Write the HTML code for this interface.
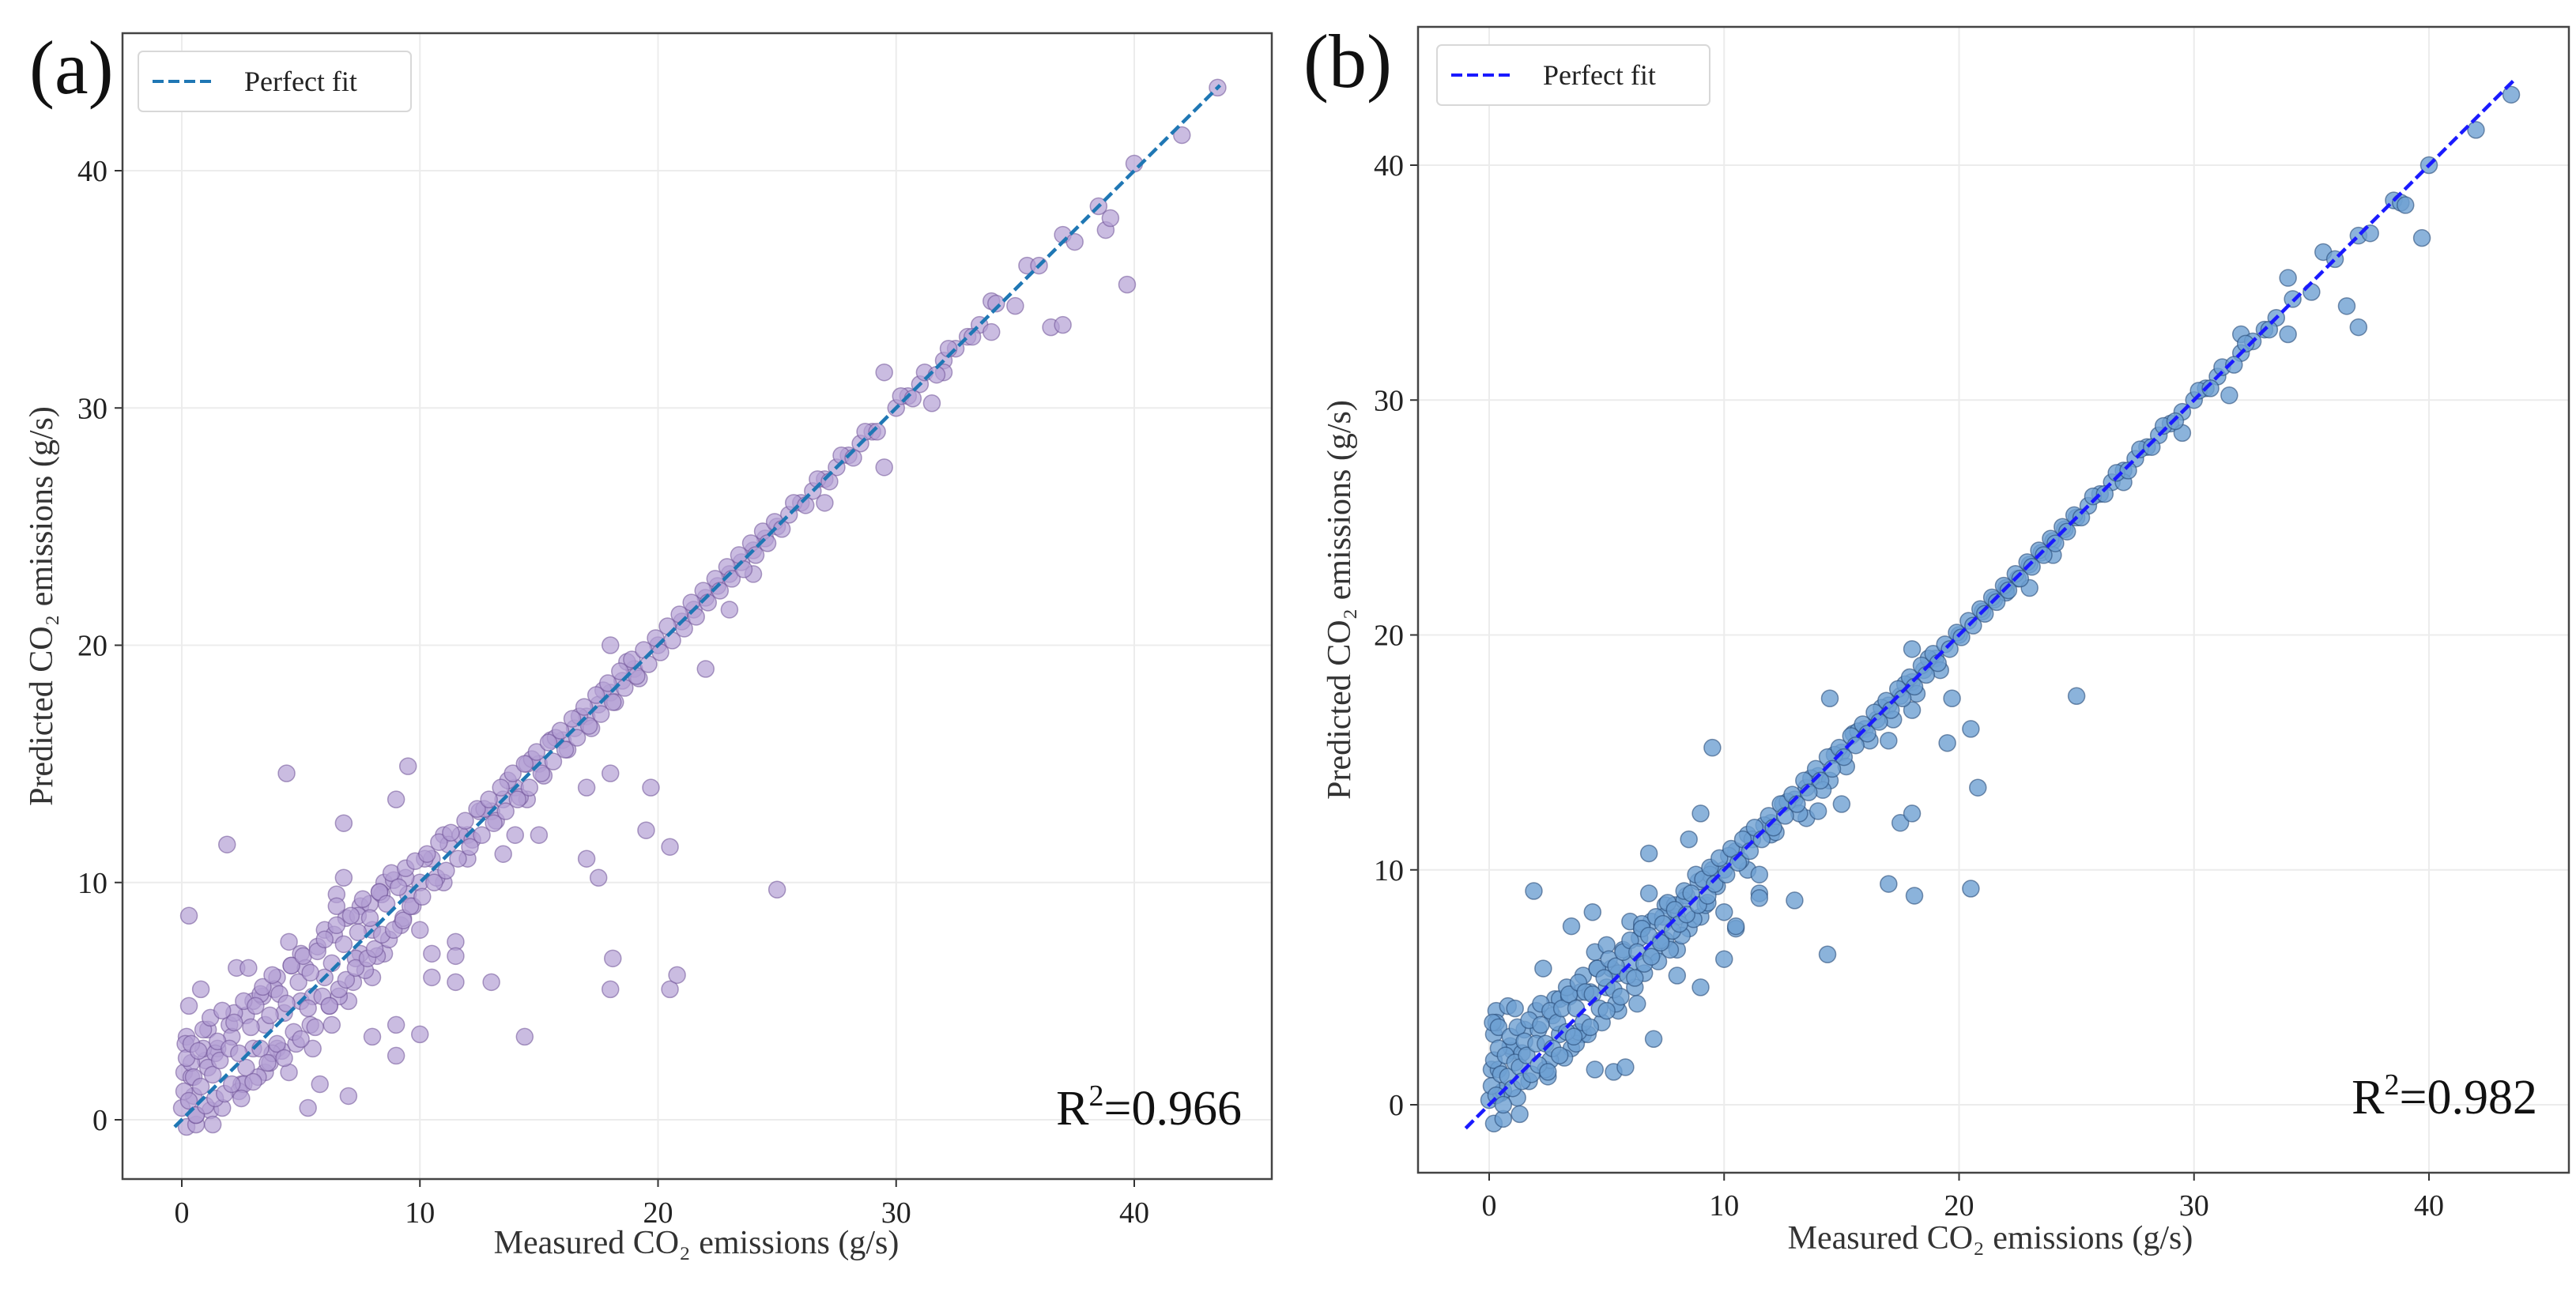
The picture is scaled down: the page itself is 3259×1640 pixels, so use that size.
<!DOCTYPE html>
<html><head><meta charset="utf-8"><style>
html,body{margin:0;padding:0;background:#fff;}
svg{display:block;font-family:"Liberation Serif",serif;}
</style></head><body>
<svg id="chart" width="3259" height="1640" viewBox="0 0 3259 1640" xmlns="http://www.w3.org/2000/svg">
<rect width="3259" height="1640" fill="#fff"/>
</svg>
<script>
const ticks = [0, 10, 20, 30, 40];
const tickLabels = ["0", "10", "20", "30", "40"];
const measured = [0,0.1,0.2,0.3,0.3,0.5,0.2,0.8,1,1.5,1.9,2,2.3,2.8,2.5,3,3,3.5,3.5,4,4,4.4,4.5,4.5,5,5,5.3,5.5,5.8,6,6,6.3,6.5,6.8,6.8,7,7,7.5,7.5,8,8,8,8.5,8.5,9,9,9,9.5,9.5,10,10,10,10.5,10.5,10.5,11,11,11.5,11.5,11.5,12,12,12.5,13,13,13.5,13.5,14,14,14.4,14.5,14.5,15,15,15.5,16,16.5,17,17,17,17.5,17.5,18,18,18,18.1,18,18.5,19,19.5,19.7,20,20.5,20.5,20.8,21,21.5,22,22,22.5,23,23,23.5,24,24,24.5,25,25,25.5,26,26.5,27,27,27.5,28,28.5,29,29.5,29.5,30,30.5,31,31.5,32,32,32.5,33,33.5,34,34,35,35.5,36,36.5,37,37,37.5,38.5,38.8,39,39.7,40,42,43.5,
0.4,0.6,0.9,1.2,1.4,1.7,2.1,2.4,2.7,3.2,3.4,3.7,3.9,4.2,4.6,4.8,5.2,5.4,5.7,6.2,6.4,6.6,6.9,7.2,7.4,7.7,7.9,8.2,8.4,8.7,8.9,9.2,9.4,9.7,10.2,10.7,11.2,11.7,12.2,12.7,13.2,13.7,14.2,14.7,15.2,15.7,16.2,16.7,17.2,17.7,18.2,18.7,19.2,0.15,0.4,0.6,1.1,1.3,2.2,2.6,3.3,3.8,4.3,5.5,6.5,7.3,8.3,9.3,
0.1,0.2,0.3,0.4,0.5,0.6,0.7,0.8,0.9,1.0,1.1,1.2,1.3,1.4,1.5,1.6,1.7,1.8,2.0,2.1,2.2,2.4,2.5,2.6,2.7,2.9,3.0,3.1,3.3,3.4,3.6,3.7,3.8,4.0,4.1,4.3,4.4,4.6,4.7,4.9,5.0,5.1,5.3,5.4,5.6,5.7,5.9,6.0,6.2,6.3,6.5,6.6,6.8,6.9,7.1,7.3,7.4,7.6,7.8,7.9,8.1,8.3,8.4,8.6,8.8,8.9,9.1,9.3,9.4,9.6,9.8,10.1,10.3,10.6,10.8,11.1,11.3,11.6,11.9,12.1,12.4,12.6,12.9,13.1,13.4,13.6,13.9,14.1,14.4,14.6,14.9,15.1,15.4,15.6,15.9,16.1,16.4,16.6,16.9,17.1,17.4,17.6,17.9,18.1,18.4,18.6,18.9,19.1,19.4,19.6,19.9,20.1,20.4,20.6,20.9,21.1,21.4,21.6,21.9,22.1,22.4,22.6,22.9,23.1,23.4,23.6,23.9,24.1,24.4,24.6,24.9,25.2,25.7,26.2,26.7,27.2,27.7,28.2,28.7,29.2,30.2,30.7,31.2,31.7,32.2,33.2,34.2];
const predA = [0.5,2,3.5,8.6,4.8,1,-0.3,5.5,2.5,3,11.6,4,6.4,6.4,1.5,3,5,2,4,6,3,14.6,7.5,2,5,7,0.5,3,1.5,6,8,4,9.5,12.5,10.2,1,5,7,9,8,6,3.5,10,7,13.5,2.7,4,9.5,14.9,10,8,3.6,11,7,6,12,10,7.5,6.9,5.8,12,11,13,13,5.8,13.5,11.2,14,12,3.5,15,13.5,15,12,16,16,16.5,17,11,14,10.2,17.5,18,20,14.6,6.8,5.5,18.5,19,12.2,14,20,11.5,5.5,6.1,21,21.5,22,19,22.5,23,21.5,23.5,24,23,24.5,25,9.7,25.5,26,26.5,27,26,27.5,28,28.5,29,27.5,31.5,30,30.5,31,30.2,32,31.5,32.5,33,33.5,34.5,33.2,34.3,36,36,33.4,33.5,37.3,37,38.5,37.5,38,35.2,40.3,41.5,43.5,
1.8,-0.2,3,0.4,2.8,0.5,3.5,1.2,4.4,1.8,5.2,2.4,5.5,2.9,6.5,3.2,6.4,4,7.3,4.8,7.8,5.2,8.5,5.8,8.6,6.3,9.1,6.9,9.5,7.6,10.1,8.2,10.2,9,11,10.2,11.6,12,11.8,13.1,12.6,14.3,13.6,15.2,14.5,16.1,15.6,17,16.5,18.1,17.6,19.3,18.6,3.2,2.4,0.2,3.8,-0.2,4.5,1.5,5.3,2.8,4.5,5.2,9,6.8,9.6,8.5,
1.2,2.6,0.8,3.2,1.8,0.2,2.9,1.4,3.8,0.6,2.2,4.3,1.9,0.9,3.3,2.5,4.6,1.1,3.0,1.5,4.1,2.8,0.9,5.0,2.2,3.9,1.6,4.8,3.0,5.6,2.4,4.4,6.1,3.2,5.3,2.6,4.9,6.5,3.7,5.8,3.4,6.9,4.7,6.2,3.9,7.1,5.2,7.6,4.8,6.6,8.2,5.5,7.4,5.9,8.6,6.4,7.9,9.3,6.8,8.5,7.2,9.6,7.8,9.1,10.4,8.0,9.8,8.4,10.6,9.0,10.9,9.4,11.2,10.0,11.7,10.5,12.1,11.0,12.6,11.5,13.1,12.0,13.5,12.5,14.0,13.0,14.6,13.5,15.0,14.0,15.5,14.6,15.9,15.1,16.4,15.6,16.9,16.1,17.4,16.6,17.9,17.1,18.4,17.6,18.9,18.2,19.4,18.7,19.8,19.2,20.3,19.7,20.8,20.2,21.3,20.7,21.8,21.2,22.3,21.8,22.8,22.3,23.3,22.8,23.8,23.2,24.3,23.8,24.8,24.3,25.2,24.9,26.0,25.9,27.0,26.9,28.0,27.9,29.0,29.0,30.5,30.4,31.5,31.4,32.5,33.0,34.4];
const predB = [0.2,1.5,3,4,3.5,0.5,-0.8,4.2,2.3,3.2,9.1,4,5.8,4.5,1.2,3,4.5,2.4,7.6,5.5,3,8.2,6.5,1.5,5,6.8,1.4,4,1.6,6,7.8,4.3,7.5,10.7,9,2.8,6.5,7,8.5,8,6.6,5.5,11.3,7.5,12.4,5,8,10,15.2,10,8.2,6.2,10.8,7.5,7.6,11.5,10,9,8.8,9.8,12,11.5,12.8,13,8.7,13.5,12.2,14,12.5,6.4,17.3,13.8,15,12.8,15.8,16,16.4,17,9.4,15.5,12,17.4,18,19.4,12.4,8.9,16.8,18.5,19,15.4,17.3,20,16,9.2,13.5,21,21.5,22,21.8,22.4,23,22,23.5,24,23.4,24.5,25,17.4,25.5,26,26.5,27,26.5,27.5,28,28.5,29,28.6,29.5,30,30.5,31,30.2,32,32.8,32.5,33,33.5,35.2,32.8,34.6,36.3,36,34,33.1,37,37.1,38.5,38.4,38.3,36.9,40,41.5,43,
1.5,-0.6,2.5,0.3,2.2,1,3.2,1.5,3.8,2,4.6,2.6,4.8,3,5.8,3.5,5.8,4.3,6.6,5,7.1,5.6,7.8,6.1,8,6.6,8.5,7.2,8.9,7.9,9.5,8.5,9.8,9.3,10.6,10.4,11.3,11.9,11.6,12.9,12.4,13.9,13.4,14.9,14.4,15.9,15.5,16.9,16.4,17.9,17.5,19,18.5,3.5,3.3,0.6,4.1,-0.4,4.3,1.9,5,3.1,4.8,5.6,7.7,7,8.7,8.6,
0.8,1.9,0.4,2.4,1.3,0.0,2.1,1.2,2.9,0.7,1.8,3.3,1.6,1.0,2.7,2.1,3.6,1.3,2.6,1.7,3.4,2.6,1.4,4.0,2.4,3.5,2.1,4.1,3.1,4.7,2.9,4.1,5.2,3.5,4.8,3.3,4.7,5.8,4.1,5.4,4.0,6.2,4.9,5.9,4.6,6.5,5.5,7.0,5.4,6.5,7.5,6.0,7.2,6.3,8.0,6.9,7.7,8.6,7.4,8.3,7.7,9.1,8.1,9.0,9.8,8.5,9.6,8.9,10.1,9.4,10.5,9.8,10.9,10.3,11.3,10.8,11.8,11.3,12.3,11.8,12.8,12.3,13.2,12.8,13.8,13.3,14.3,13.8,14.8,14.3,15.2,14.8,15.7,15.3,16.2,15.8,16.7,16.3,17.2,16.8,17.7,17.3,18.2,17.8,18.7,18.3,19.2,18.8,19.6,19.4,20.1,19.9,20.6,20.4,21.1,20.9,21.6,21.4,22.1,21.9,22.6,22.4,23.1,22.9,23.6,23.4,24.1,23.9,24.6,24.4,25.1,25.0,25.9,26.0,26.9,27.0,27.9,28.0,28.9,29.1,30.4,30.5,31.4,31.5,32.4,33.0,34.3];

const NS='http://www.w3.org/2000/svg';
const svg=document.getElementById('chart');
function mk(tag,attrs,parent){const e=document.createElementNS(NS,tag);for(const k in attrs)e.setAttribute(k,attrs[k]);(parent||svg).appendChild(e);return e;}

const panels=[
 {id:'a',L:155,T:42,R:1609,B:1492,x0:230,x40:1435,y0:1417,y40:216,lineStart:-0.3,pred:predA,
  fill:'rgba(180,160,212,0.7)',stroke:'rgba(110,80,150,0.55)',lineColor:'#1f77b4',
  legend:[175,65,345,76],tag:[37,118],r2:[1571,1423,'0.966'],ylabx:52,yticx:136,xticy:1547,xlab:[881,1586]},
 {id:'b',L:1794,T:34,R:3250,B:1484,x0:1884,x40:3073,y0:1398,y40:209,lineStart:-1,pred:predB,
  fill:'rgba(110,160,210,0.8)',stroke:'rgba(40,75,120,0.6)',lineColor:'#1a1aff',
  legend:[1818,57,345,76],tag:[1649,110],r2:[3210,1409,'0.982'],ylabx:1694,yticx:1776,xticy:1538,xlab:[2518,1580]}
];

panels.forEach(p=>{
 const g=mk('g',{});
 
 
 const sx=v=>p.x0+(p.x40-p.x0)*v/40;
 const sy=v=>p.y0+(p.y40-p.y0)*v/40;
 ticks.forEach((t,i)=>{
  const gx=mk('line',{x1:sx(t),x2:sx(t),y1:p.T,y2:p.B,stroke:'#ececec','stroke-width':2},g);
  
  
  const gy=mk('line',{x1:p.L,x2:p.R,y1:sy(t),y2:sy(t),stroke:'#ececec','stroke-width':2},g);
  
  
  mk('line',{x1:sx(t),x2:sx(t),y1:p.B,y2:p.B+10,stroke:'#333','stroke-width':2},g);
  mk('line',{x1:p.L-10,x2:p.L,y1:sy(t),y2:sy(t),stroke:'#333','stroke-width':2},g);
  const xt=mk('text',{x:sx(t),y:p.xticy,'font-size':38,'text-anchor':'middle',fill:'#222'},g);
  xt.textContent=tickLabels[i];
  
  
  const yt=mk('text',{x:p.yticx,y:sy(t)+13,'font-size':38,'text-anchor':'end',fill:'#222'},g);
  yt.textContent=tickLabels[i];
  
  
 });
 const pts=mk('g',{},g);
 
 
 measured.forEach((m,i)=>{
  const c=mk('circle',{cx:sx(m),cy:sy(p.pred[i]),r:10.5,fill:p.fill,stroke:p.stroke,'stroke-width':1.5},pts);
  
  
 });
 const ln=mk('line',{x1:sx(p.lineStart),y1:sy(p.lineStart),x2:sx(43.6),y2:sy(43.6),stroke:p.lineColor,'stroke-width':4.5,'stroke-dasharray':'14 6'},g);
 
 
 const fr=mk('rect',{x:p.L,y:p.T,width:p.R-p.L,height:p.B-p.T,fill:'none',stroke:'#444','stroke-width':2.5},g);
 
 
 const lg=mk('g',{},g);
 
 
 const [lx,ly,lw,lh]=p.legend;
 mk('rect',{x:lx,y:ly,width:lw,height:lh,rx:6,fill:'#fff',stroke:'#d8d8d8','stroke-width':2},lg);
 mk('line',{x1:lx+18,x2:lx+98,y1:ly+lh/2,y2:ly+lh/2,stroke:p.lineColor,'stroke-width':4,'stroke-dasharray':'14 6'},lg);
 const lt=mk('text',{x:lx+134,y:ly+lh/2+12,'font-size':36,fill:'#222'},lg);
 lt.textContent='Perfect fit';
 
 
 const tg=mk('text',{x:p.tag[0],y:p.tag[1],'font-size':96,fill:'#111'},g);
 tg.textContent='('+p.id+')';
 
 
 const r=mk('text',{x:p.r2[0],y:p.r2[1],'font-size':62,'text-anchor':'end',fill:'#111'},g);
 r.innerHTML='R<tspan font-size="38" dy="-24">2</tspan><tspan dy="24">='+p.r2[2]+'</tspan>';
 
 
 const xl=mk('text',{x:p.xlab[0],y:p.xlab[1],'font-size':42,'text-anchor':'middle',fill:'#333'},g);
 xl.textContent='Measured CO₂ emissions (g/s)';
 
 
 const cy=(p.T+p.B)/2;
 const yl=mk('text',{x:p.ylabx,y:cy,'font-size':42,'text-anchor':'middle',fill:'#333',transform:'rotate(-90 '+(p.ylabx)+' '+cy+')'},g);
 yl.setAttribute('dy','14');
 yl.textContent='Predicted CO₂ emissions (g/s)';
 
 
});
</script>
</body></html>
